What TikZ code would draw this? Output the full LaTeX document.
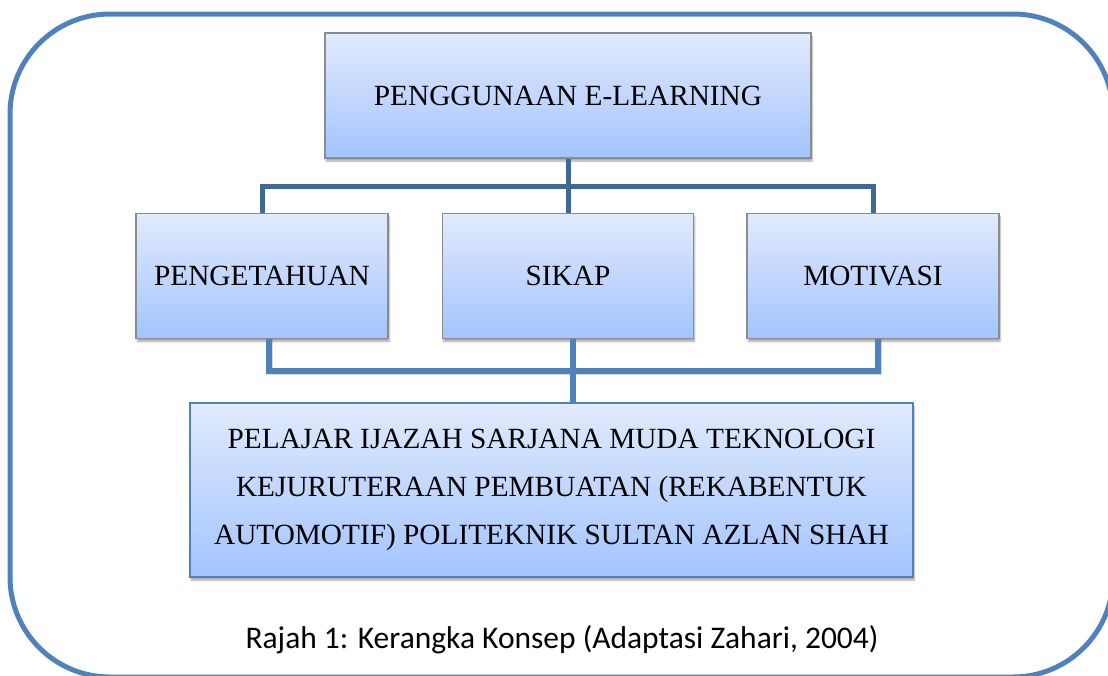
\documentclass[tikz,border=0pt]{standalone}
\usepackage{fontspec}
\setmainfont{Liberation Serif}
\newfontfamily\rajahfont{Carlito}
\usepackage{tikz}
\usetikzlibrary{positioning, shadows.blur}

\definecolor{frameblue}{RGB}{79,129,189}
\definecolor{linkblue}{RGB}{62,104,153}
\definecolor{boxtop}{RGB}{225,234,252}
\definecolor{boxbottom}{RGB}{163,196,255}
\definecolor{boxedge}{RGB}{140,140,140}

\tikzset{
  konsep/.style={draw=boxedge, line width=1.5pt, top color=boxtop, bottom color=boxbottom,
    blur shadow={shadow xshift=1pt, shadow yshift=-3pt, shadow blur steps=6, shadow opacity=35},
    minimum height=125pt, inner sep=0pt, font=\fontsize{29.3}{34}\selectfont},
  link/.style={linkblue, line width=5pt},
  linkbawah/.style={frameblue, line width=6pt},
}

\begin{document}
\begin{tikzpicture}[x=1pt, y=-1pt]
\useasboundingbox (0,0) rectangle (1108,675);

\draw [frameblue, line width=5pt, rounded corners=100pt] (10,14) rectangle (1113,677);

\node [konsep, minimum width=486pt] (guna) at (568,95.5) {PENGGUNAAN E-LEARNING};
\node [konsep, minimum width=251pt, below=54pt of guna] (sikap) {SIKAP};
\node [konsep, minimum width=252pt, left=53pt of sikap] (tahu) {PENGETAHUAN};
\node [konsep, minimum width=252pt, right=52pt of sikap] (motiv) {MOTIVASI};

\node [konsep, draw=frameblue, minimum width=723pt, minimum height=174pt, align=center,
  font=\fontsize{29.3}{48}\selectfont] (pelajar) at (551.5,490)
  {PELAJAR IJAZAH SARJANA MUDA TEKNOLOGI\\
   KEJURUTERAAN PEMBUATAN (REKABENTUK\\
   AUTOMOTIF) POLITEKNIK SULTAN AZLAN SHAH};

% top branch
\draw [link] (guna.south) -- (sikap.north);
\draw [link] (tahu.north) -- ++(0pt,26pt) -| (motiv.north);

% bottom branch, with a soft shadow under it
\draw [black, opacity=0.15, line width=7pt, shift={(2pt,-4pt)}] ([xshift=7pt]tahu.south) -- ++(0pt,-32pt) -| ([xshift=5pt]motiv.south);
\draw [linkbawah] ([xshift=7pt]tahu.south) -- ++(0pt,-32pt) -| ([xshift=5pt]motiv.south);
\draw [linkbawah] ([xshift=5pt]sikap.south) -- ([xshift=5pt]sikap.south |- pelajar.north);

\node [font=\rajahfont\fontsize{31.5}{34}\selectfont] (rajah) at (562,640) {Rajah 1: Kerangka Konsep (Adaptasi Zahari, 2004)};
\end{tikzpicture}
\end{document}
